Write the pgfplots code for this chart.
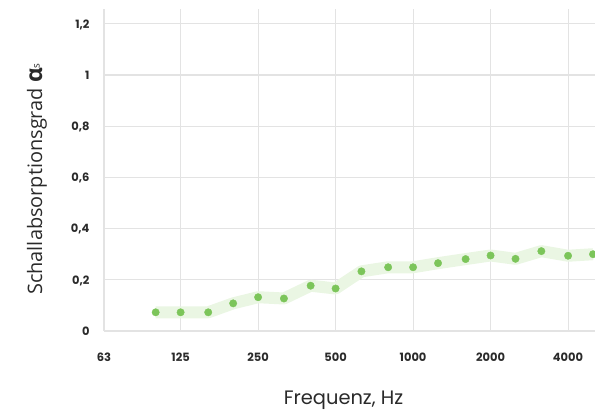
\documentclass[border=0pt]{standalone}
\usepackage{fontspec}
\setmainfont{Poppins}
\newfontfamily\labelfont{Open Sans}
\usepackage{pgfplots}
\pgfplotsset{compat=1.18}
\definecolor{gridgray}{HTML}{E3E3E3}
\definecolor{ptgreen}{HTML}{7CC55A}
\definecolor{bandgreen}{HTML}{EAF6E3}
\definecolor{ticktext}{HTML}{2A2A2A}
\pgfplotstableread{
f a
100 0.073
125 0.073
160 0.073
200 0.108
250 0.132
315 0.127
400 0.177
500 0.166
630 0.233
800 0.249
1000 0.249
1250 0.265
1600 0.281
2000 0.295
2500 0.282
3150 0.312
4000 0.294
5000 0.300
}\datatable
\begin{document}
\begin{tikzpicture}
\begin{axis}[
  scale only axis,
  width=491bp, height=322bp,
  xmode=log, log basis x=2,
  xmin=63, xmax=5090,
  ymin=0, ymax=1.258,
  axis line style={draw=none},
  tick style={draw=none},
  xtick={63,125,250,500,1000,2000,4000},
  xticklabels={63,125,250,500,1000,2000,4000},
  ytick={0,0.2,0.4,0.6,0.8,1,1.2},
  yticklabels={0,{0,2},{0,4},{0,6},{0,8},1,{1,2}},
  grid=major,
  major grid style={gridgray, line width=1.1pt},
  ticklabel style={font=\fontsize{11.5}{12}\selectfont\bfseries, text=ticktext},
  xticklabel style={anchor=base, yshift=-30bp},
  yticklabel style={anchor=base east, xshift=-11bp, yshift=-4.2bp},
  /pgf/number format/assume math mode=true,
  xlabel={Frequenz, Hz},
  xlabel style={font=\fontsize{19.5}{20}\selectfont, text=ticktext, at={(axis description cs:0.5,0)}, anchor=base, yshift=-73bp, xshift=-6bp},
  ylabel={\labelfont Schallabsorptionsgrad {\fontsize{23}{23}\selectfont\bfseries α}\raisebox{2.5pt}{\fontsize{10}{10}\selectfont s}},
  ylabel style={font=\fontsize{20}{21}\selectfont, text=ticktext, at={(axis description cs:-0.1365,0.472)}, anchor=center},
  clip=false,
]
\addplot[bandgreen, line width=12bp, line join=round, line cap=butt] table {\datatable};
\addplot[only marks, mark=*, mark size=3.7bp, color=ptgreen, mark options={fill=ptgreen, draw=ptgreen}] table {\datatable};
\end{axis}
\pgfresetboundingbox
\path[use as bounding box] (-104bp,-80bp) rectangle (491bp,331bp);
\end{tikzpicture}
\end{document}
